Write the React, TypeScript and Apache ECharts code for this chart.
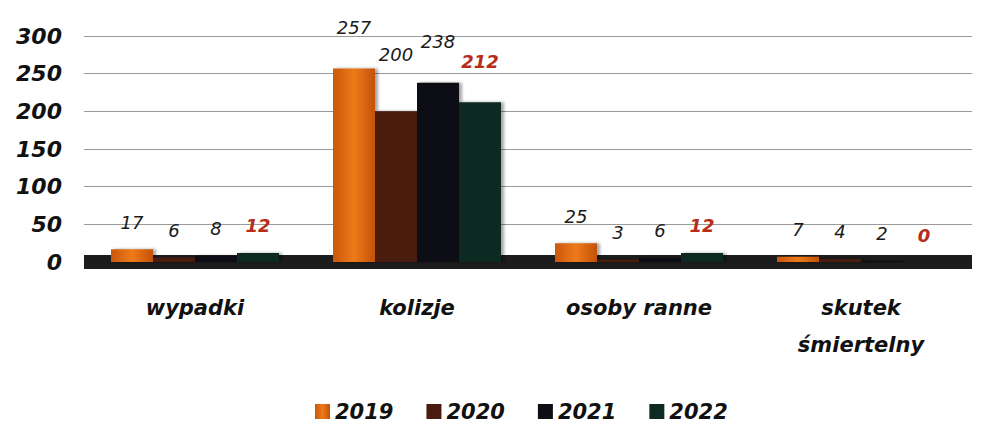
import React, { useEffect, useRef } from "react";
import * as echarts from "echarts";

const categories = ["wypadki", "kolizje", "osoby ranne", "skutek\nśmiertelny"];
const years = ["2019", "2020", "2021", "2022"];
const values2019 = [17, 257, 25, 7];
const values2020 = [6, 200, 3, 4];
const values2021 = [8, 238, 6, 2];
const values2022 = [12, 212, 12, 0];
const yTicks = [0, 50, 100, 150, 200, 250, 300];

const colors = ["#d8640f", "#4a1c10", "#0e0f16", "#0f2a23"];
const FONT = "'DejaVu Sans', 'Open Sans', sans-serif";

export default function App() {
  const ref = useRef<HTMLDivElement>(null);
  useEffect(() => {
    document.body.style.margin = "0";
    document.body.style.overflow = "hidden";
    if (!ref.current) return;
    const chart = echarts.init(ref.current, null, { renderer: "svg" });
    const seriesData = [values2019, values2020, values2021, values2022];
    chart.setOption({
      animation: false,
      backgroundColor: "#ffffff",
      textStyle: { fontFamily: FONT },
      grid: { left: 84, right: 35, top: 36, bottom: 161, containLabel: false },
      legend: {
        data: years,
        top: 396,
        left: 310,
        itemWidth: 15,
        itemHeight: 15,
        itemGap: 33,
        icon: "rect",
        textStyle: { fontFamily: FONT, fontSize: 21, fontWeight: "bold", fontStyle: "italic", color: "#111" },
      },
      xAxis: {
        type: "category",
        data: categories,
        axisTick: { show: false },
        axisLine: { show: true, lineStyle: { color: "#1c1c1c", width: 14, cap: "butt" } },
        axisLabel: {
          margin: 27,
          fontFamily: FONT,
          fontSize: 21,
          fontWeight: "bold",
          fontStyle: "italic",
          color: "#111",
          lineHeight: 37,
        },
      },
      yAxis: {
        type: "value",
        min: yTicks[0],
        max: yTicks[yTicks.length - 1],
        interval: 50,
        axisLine: { show: false },
        axisTick: { show: false },
        splitLine: { lineStyle: { color: "#9a9a9a", width: 1 } },
        axisLabel: {
          margin: 22,
          fontFamily: FONT,
          fontSize: 22,
          fontWeight: "bold",
          fontStyle: "italic",
          color: "#111",
        },
      },
      series: years.map((y, i) => ({
        name: y,
        type: "bar",
        data: seriesData[i].map((v, j) => ({
          value: v,
          label: { distance: j === 1 ? (i === 1 ? 48 : 32) : 18 },
        })),
        barWidth: 42,
        barGap: "0%",
        itemStyle: {
          color:
            i === 0
              ? new echarts.graphic.LinearGradient(0, 0, 1, 0, [
                  { offset: 0, color: "#c9580c" },
                  { offset: 0.5, color: "#ee7a1a" },
                  { offset: 1, color: "#c25209" },
                ])
              : colors[i],
          shadowColor: "rgba(0,0,0,0.35)",
          shadowBlur: 3,
          shadowOffsetX: 3,
        },
        label: {
          show: true,
          position: "top",
          fontFamily: FONT,
          fontSize: 18,
          fontStyle: "italic",
          fontWeight: i === 3 ? "bold" : "normal",
          color: i === 3 ? "#b62d1a" : "#1a1a1a",
        },
      })),
      color: colors,
    });
    return () => chart.dispose();
  }, []);
  return <div ref={ref} style={{ width: 1007, height: 423 }} />;
}
